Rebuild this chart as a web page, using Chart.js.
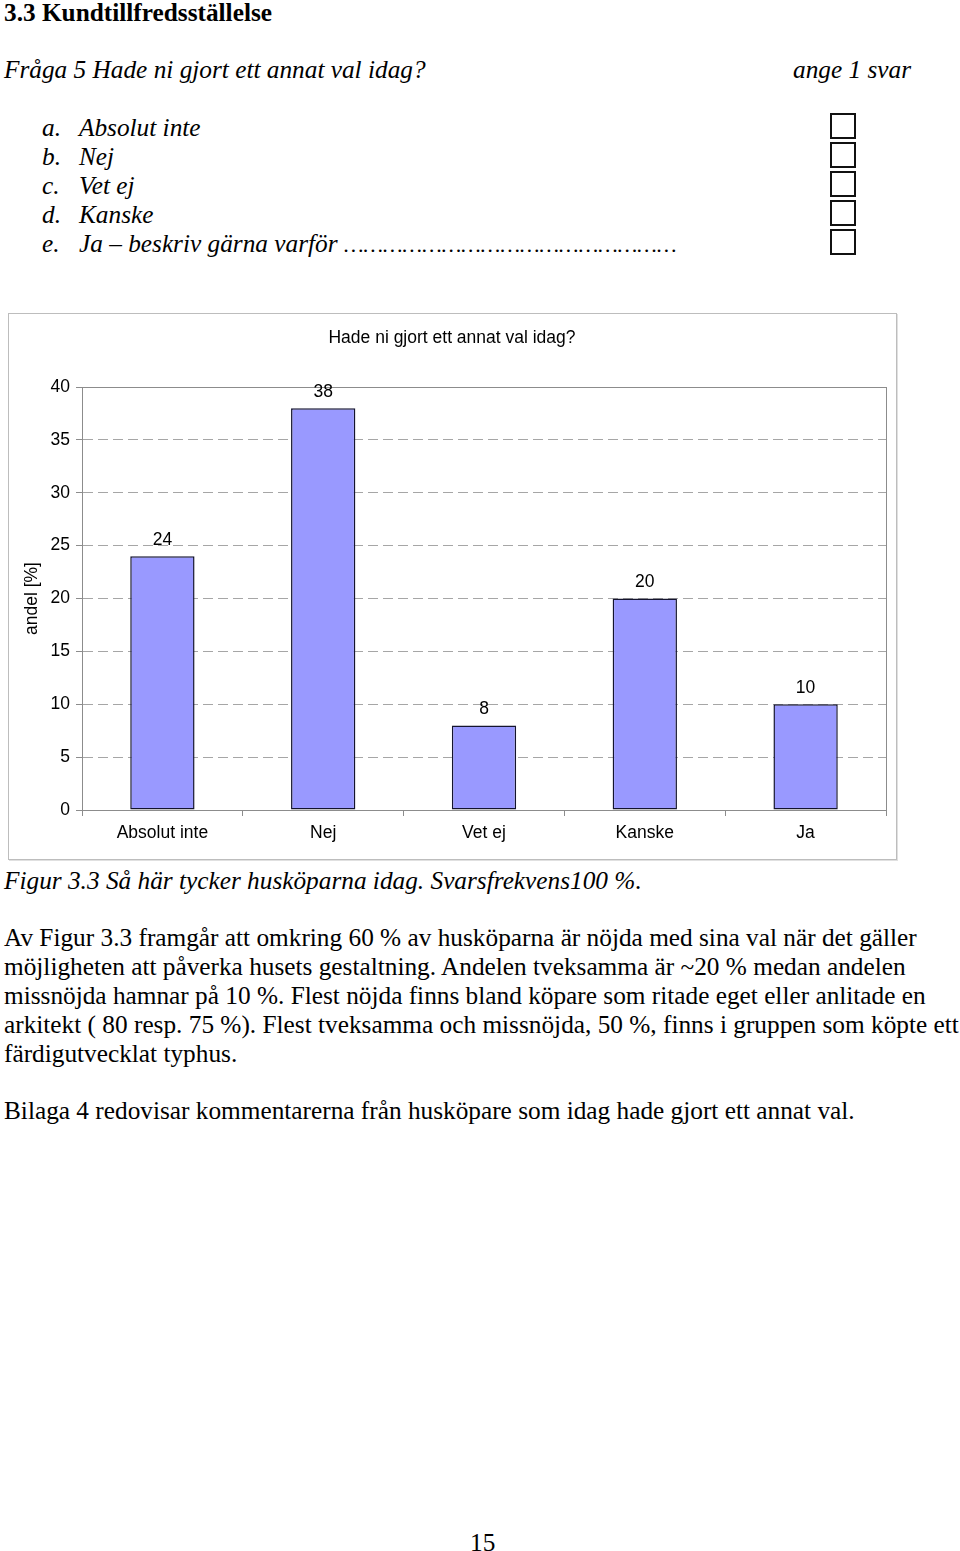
<!DOCTYPE html>
<html lang="sv">
<head>
<meta charset="utf-8">
<title>Hade ni gjort ett annat val idag?</title>
<style>
  body { margin: 0; background: #fff; color: #000; font-family: 'Liberation Serif', 'Times New Roman', serif; font-size: 25.3px; }
  .page { position: relative; width: 960px; height: 1551px; overflow: hidden; }
  .ln { position: absolute; white-space: nowrap; line-height: 30px; height: 30px; }
  .it { font-style: italic; }
  .dots { font-size: 22px; }
  .box { position: absolute; left: 830px; width: 22px; height: 22px; border: 2px solid #111; }
  #frame { position: absolute; left: 8px; top: 313px; width: 887px; height: 545px; border: 1px solid #bdbdbd; box-shadow: 1px 1px 0 #e0e0e0; }
  #frame canvas { display: block; }
</style>
<script src="https://cdn.jsdelivr.net/npm/chart.js@4/dist/chart.umd.min.js"></script>
</head>
<body>
<div class="page">
  <div class="ln" style="left:4px;top:-3px;font-weight:bold;">3.3 Kundtillfredsställelse</div>
  <div class="ln it" style="left:4px;top:54px;">Fråga 5 Hade ni gjort ett annat val idag?</div>
  <div class="ln it" style="left:793px;top:54px;">ange 1 svar</div>

  <div class="ln it" style="left:42px;top:112px;">a.</div><div class="ln it" style="left:79px;top:112px;">Absolut inte</div>
  <div class="ln it" style="left:42px;top:141px;">b.</div><div class="ln it" style="left:79px;top:141px;">Nej</div>
  <div class="ln it" style="left:42px;top:170px;">c.</div><div class="ln it" style="left:79px;top:170px;">Vet ej</div>
  <div class="ln it" style="left:42px;top:199px;">d.</div><div class="ln it" style="left:79px;top:199px;">Kanske</div>
  <div class="ln it" style="left:42px;top:228px;">e.</div><div class="ln it" style="left:79px;top:228px;">Ja – beskriv gärna varför <span class="dots">……………………………………………</span></div>

  <div class="box" style="top:113px;"></div>
  <div class="box" style="top:142px;"></div>
  <div class="box" style="top:171px;"></div>
  <div class="box" style="top:200px;"></div>
  <div class="box" style="top:229px;"></div>

  <div id="frame"><canvas id="graph" width="887" height="545"></canvas></div>

  <div class="ln it" style="left:4px;top:865px;">Figur 3.3 Så här tycker husköparna idag. Svarsfrekvens100 %.</div>

  <div class="ln" style="left:4px;top:922px;">Av Figur 3.3 framgår att omkring 60 % av husköparna är nöjda med sina val när det gäller</div>
  <div class="ln" style="left:4px;top:951px;">möjligheten att påverka husets gestaltning. Andelen tveksamma är ~20 % medan andelen</div>
  <div class="ln" style="left:4px;top:980px;">missnöjda hamnar på 10 %. Flest nöjda finns bland köpare som ritade eget eller anlitade en</div>
  <div class="ln" style="left:4px;top:1009px;">arkitekt ( 80 resp. 75 %). Flest tveksamma och missnöjda, 50 %, finns i gruppen som köpte ett</div>
  <div class="ln" style="left:4px;top:1038px;">färdigutvecklat typhus.</div>

  <div class="ln" style="left:4px;top:1095px;">Bilaga 4 redovisar kommentarerna från husköpare som idag hade gjort ett annat val.</div>

  <div class="ln" style="left:470px;top:1527px;">15</div>
</div>
<script>
  // data
  var categories = ["Absolut inte", "Nej", "Vet ej", "Kanske", "Ja"];
  var andel = [24, 38, 8, 20, 10];
  var chartTitle = "Hade ni gjort ett annat val idag?";
  var yTitle = "andel [%]";
  var yMin = 0, yMax = 40, yStep = 5;

  var sans = "'Liberation Sans', Arial, sans-serif";
  var fs = 17.5;
  Chart.defaults.font.family = sans;
  Chart.defaults.font.size = fs;
  Chart.defaults.color = '#000';

  // gray frame round the plot area
  var plotFrame = {
    id: 'plotFrame',
    beforeDatasetsDraw: function (chart) {
      var a = chart.chartArea, ctx = chart.ctx;
      ctx.save();
      ctx.strokeStyle = '#8c8c8c';
      ctx.lineWidth = 1;
      ctx.strokeRect(Math.round(a.left) + 0.5, Math.round(a.top) + 0.5, Math.round(a.right - a.left), Math.round(a.bottom - a.top));
      ctx.restore();
    }
  };

  // value over each bar
  var valueLabels = {
    id: 'valueLabels',
    afterDatasetsDraw: function (chart) {
      var ctx = chart.ctx;
      ctx.save();
      ctx.font = fs + 'px ' + sans;
      ctx.fillStyle = '#000';
      ctx.textAlign = 'center';
      ctx.textBaseline = 'middle';
      chart.getDatasetMeta(0).data.forEach(function (bar, i) {
        ctx.fillText(String(andel[i]), bar.x, bar.y - 16);
      });
      ctx.restore();
    }
  };

  new Chart(document.getElementById('graph'), {
    type: 'bar',
    data: {
      labels: categories,
      datasets: [{
        data: andel,
        backgroundColor: '#9999ff',
        borderColor: '#14142e',
        borderWidth: 1.5,
        borderSkipped: false,
        categoryPercentage: 1,
        barPercentage: 0.4
      }]
    },
    options: {
      responsive: false,
      animation: false,
      layout: { padding: { left: 9, right: 10, top: 0, bottom: 0 } },
      plugins: {
        legend: { display: false },
        tooltip: { enabled: false },
        title: {
          display: true,
          text: chartTitle,
          font: { size: fs, weight: 'normal' },
          color: '#000',
          padding: { top: 14, bottom: 38 }
        }
      },
      scales: {
        x: {
          grid: { offset: true, drawOnChartArea: false, drawTicks: true, tickLength: 6, color: '#8c8c8c' },
          border: { display: true, color: '#8c8c8c' },
          ticks: { padding: 7, color: '#000', font: { size: fs } },
          afterFit: function (s) { s.height = 49; }
        },
        y: {
          min: yMin,
          max: yMax,
          grid: { color: '#a6a6a6', tickColor: '#8c8c8c', tickLength: 6, drawTicks: true },
          border: { display: true, color: '#8c8c8c', dash: [10, 5] },
          ticks: { stepSize: yStep, padding: 6, color: '#000', font: { size: fs } },
          title: { display: true, text: yTitle, color: '#000', font: { size: fs }, padding: { top: 4, bottom: 4 } },
          afterFit: function (s) { s.width = 64; }
        }
      }
    },
    plugins: [plotFrame, valueLabels]
  });
</script>
</body>
</html>
